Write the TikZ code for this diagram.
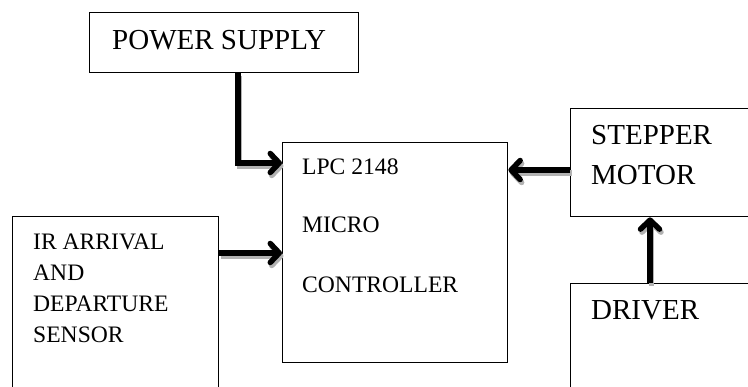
\documentclass[tikz,border=0pt]{standalone}
\usepackage{fontspec}
\setmainfont{Liberation Serif}
\usetikzlibrary{arrows.meta}
\tikzset{
  blk/.style={draw=black, line width=1.4pt, anchor=north west, inner sep=0pt, fill=none},
  big/.style={anchor=base west, inner sep=0pt, font=\fontsize{29}{29}\selectfont},
  small/.style={anchor=base west, inner sep=0pt, font=\fontsize{23.6}{23.6}\selectfont},
  arr/.style={line width=5.5pt, -{Straight Barb[length=9pt,width=19pt,round]}},
  arrshadow/.style={arr, draw=gray!60},
}
\newcommand{\myconn}[1]{%
  \begin{scope}[transform canvas={xshift=1.5pt,yshift=-3pt}]\draw[arrshadow] #1;\end{scope}
  \draw[arr] #1;}
\begin{document}
\begin{tikzpicture}[x=1pt,y=-1pt]
\useasboundingbox (0,0) rectangle (748,387);
\clip (0,0) rectangle (748,387);
% boxes
\node[blk, minimum width=269pt, minimum height=60pt] (ps) at (89,12) {};
\node[blk, minimum width=225pt, minimum height=220pt] (mc) at (282,142) {};
\node[blk, minimum width=206pt, minimum height=260pt] (ir) at (12,216) {};
\node[blk, minimum width=240pt, minimum height=108pt] (sm) at (570,108) {};
\node[blk, minimum width=240pt, minimum height=200pt] (dr) at (570,283) {};
% texts
\node[big] (pst) at (112,50) {POWER SUPPLY};
\node[small] (mc1) at (302,175) {LPC 2148};
\node[small] (mc2) at (302,233) {MICRO};
\node[small] (mc3) at (302,293) {CONTROLLER};
\node[small] (ir1) at (33,250) {IR ARRIVAL};
\node[small] (ir2) at (33,281) {AND};
\node[small] (ir3) at (33,312) {DEPARTURE};
\node[small] (ir4) at (33,343) {SENSOR};
\node[big] (sm1) at (591,145) {STEPPER};
\node[big] (sm2) at (591,185) {MOTOR};
\node[big] (drt) at (591,320) {DRIVER};
% connectors
\myconn{([xshift=149pt]ps.south west) |- ([yshift=-21pt]mc.north west)}
\myconn{([yshift=-37pt]ir.north east) -- ([yshift=-111pt]mc.north west)}
\myconn{([yshift=-62pt]sm.north west) -- ([yshift=-28pt]mc.north east)}
\myconn{([xshift=80pt]dr.north west) -- ([xshift=80pt]sm.south west)}
\end{tikzpicture}
\end{document}
